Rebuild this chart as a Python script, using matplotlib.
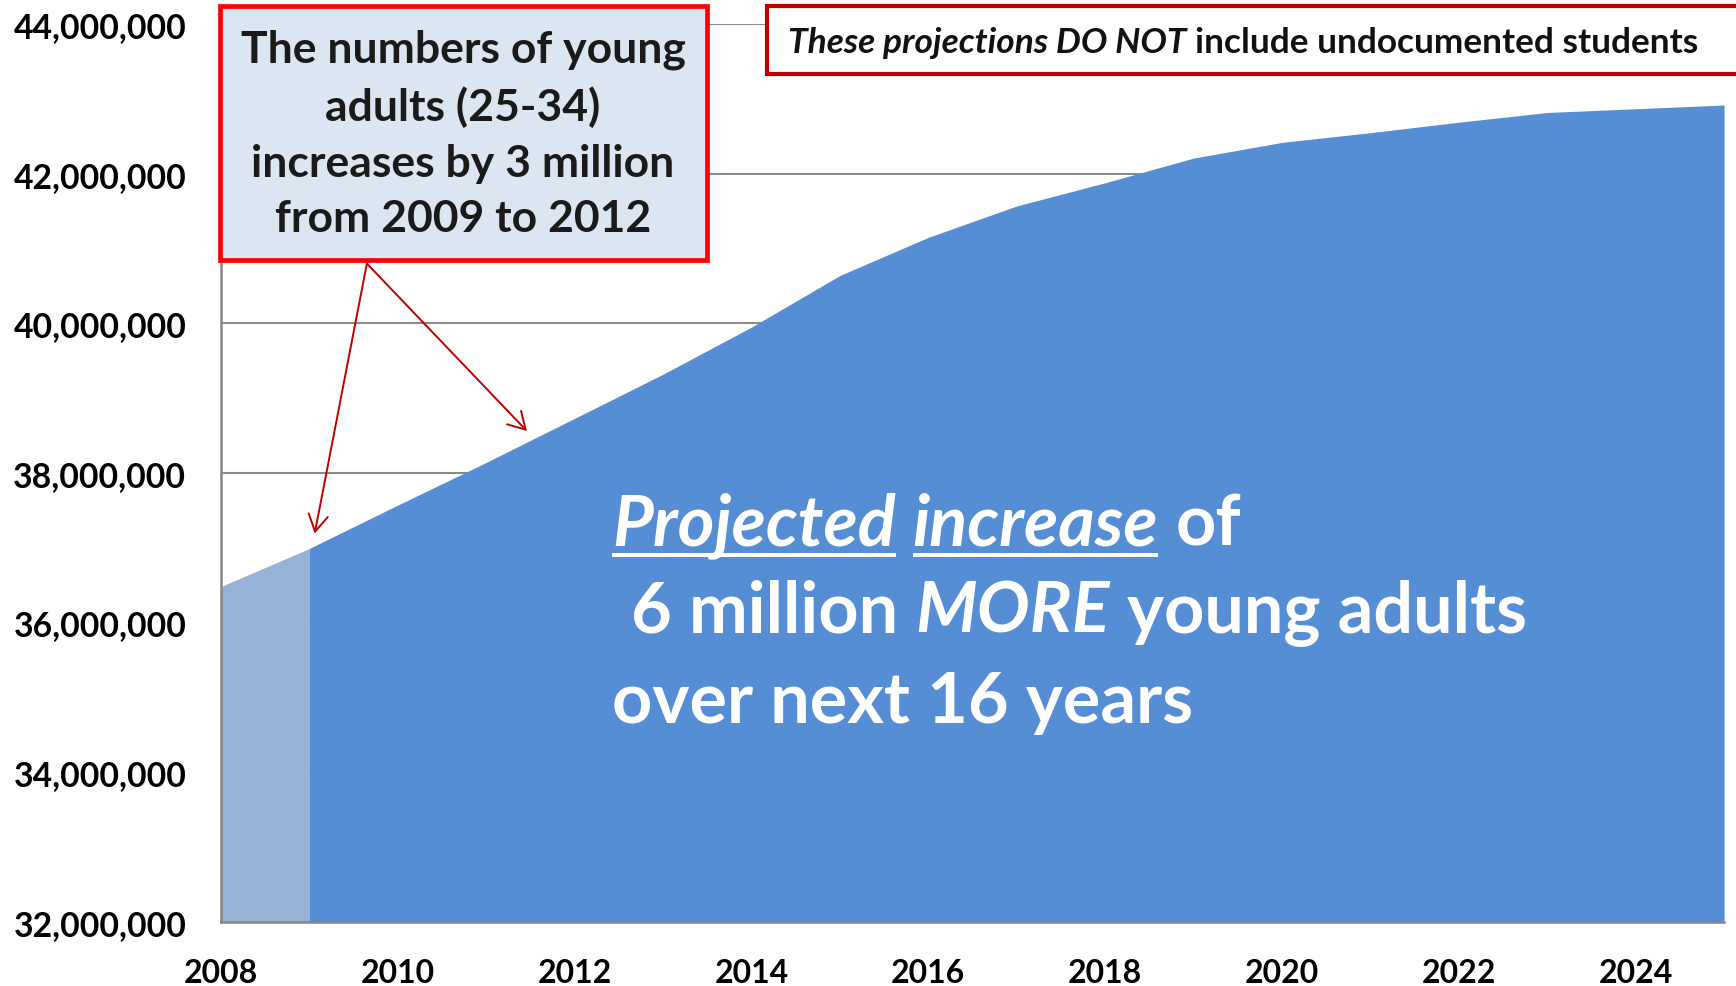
import numpy as np
import matplotlib.pyplot as plt
from matplotlib.patches import Rectangle
from matplotlib.lines import Line2D
from matplotlib.ticker import FuncFormatter

# Young adults (25-34), actual 2008-2009 and projected to 2025
years = [2008, 2009, 2010, 2011, 2012, 2013, 2014, 2015, 2016,
         2017, 2018, 2019, 2020, 2021, 2022, 2023, 2024, 2025]
adults = [36.48e6, 36.99e6, 37.57e6, 38.14e6, 38.73e6, 39.32e6, 39.95e6, 40.64e6, 41.15e6,
          41.57e6, 41.88e6, 42.21e6, 42.42e6, 42.55e6, 42.69e6, 42.82e6, 42.87e6, 42.92e6]

year_ticks = list(range(2008, 2025, 2))
pop_ticks = [32e6, 34e6, 36e6, 38e6, 40e6, 42e6, 44e6]

box_text = "The numbers of young\nadults (25-34)\nincreases by 3 million\nfrom 2009 to 2012"
note_parts = [("These projections DO NOT", True, False),
              ("include undocumented students", False, False)]
big_lines = [
    [("Projected", True, True), ("increase", True, True), ("of", False, False)],
    [("6 million", False, False), ("MORE", True, False), ("young adults", False, False)],
    [("over next 16 years", False, False)],
]

plt.rcParams['font.family'] = ['Lato', 'DejaVu Sans']

fig = plt.figure(figsize=(17.36, 9.87), dpi=100)
ax = fig.add_axes([0.1273, 0.0653, 0.8658, 0.9091])

# area: first year lighter, projection in darker blue
ax.fill_between(years[:2], adults[:2], pop_ticks[0], color='#95B3D7', lw=0, zorder=2)
ax.fill_between(years[1:], adults[1:], pop_ticks[0], color='#558ED5', lw=0, zorder=2)

ax.set_xlim(2008, 2025)
ax.set_ylim(pop_ticks[0], pop_ticks[-1])
ax.set_xticks(year_ticks)
ax.set_yticks(pop_ticks)
ax.yaxis.set_major_formatter(FuncFormatter(lambda v, p: '{:,.0f}'.format(v)))
ax.tick_params(length=0)
ax.tick_params(axis='y', pad=25, labelsize=24.3)
ax.tick_params(axis='x', pad=26, labelsize=23)
for lab in ax.get_xticklabels() + ax.get_yticklabels():
    lab.set_fontweight('bold')

ax.grid(axis='y', color='#8C8C8C', lw=1.5, zorder=1)
ax.set_axisbelow(True)
for s in ['top', 'right']:
    ax.spines[s].set_visible(False)
for s in ['left', 'bottom']:
    ax.spines[s].set_color('#878787')
    ax.spines[s].set_linewidth(1.8)
    ax.spines[s].set_zorder(3)

# callout box top left
fig.add_artist(Rectangle((0.1267, 0.7356), 0.2805, 0.257, transform=fig.transFigure,
                         facecolor='#DCE6F2', edgecolor='#FF0000', lw=3.4, zorder=5))
fig.text(0.2667, 0.8637, box_text, ha='center', va='center', fontsize=32,
         fontweight='bold', color='#1A1A1A', linespacing=1.47, zorder=6)

# arrows from the callout
for tip in [(2009.06, 37.19e6), (2011.46, 38.56e6)]:
    ax.annotate('', xy=tip, xytext=(2009.65, 40.80e6),
                arrowprops=dict(arrowstyle='->,head_length=0.6,head_width=0.35',
                                mutation_scale=20, color='#C00000', lw=1.4,
                                shrinkA=0, shrinkB=0), zorder=4)

# note box top right
fig.add_artist(Rectangle((0.4421, 0.924), 0.57, 0.0686, transform=fig.transFigure,
                         facecolor='white', edgecolor='#C00000', lw=3.0, zorder=5))

renderer = fig.canvas.get_renderer()


def space_width(size):
    a = fig.text(0, 0, 'a a', fontsize=size, fontweight='bold')
    b = fig.text(0, 0, 'aa', fontsize=size, fontweight='bold')
    w = a.get_window_extent(renderer).width - b.get_window_extent(renderer).width
    a.remove()
    b.remove()
    return w / fig.bbox.width


def write_runs(x, y, parts, size, color, ul_off=0.0111, ul_lw=2.9):
    gap = space_width(size)
    for txt, italic, uline in parts:
        t = fig.text(x, y, txt, fontsize=size, fontweight='bold',
                     fontstyle='italic' if italic else 'normal',
                     color=color, va='baseline', zorder=6)
        bb = t.get_window_extent(renderer).transformed(fig.transFigure.inverted())
        if uline:
            fig.add_artist(Line2D([bb.x0, bb.x1], [y - ul_off] * 2, color=color,
                                  lw=ul_lw, solid_capstyle='butt', zorder=6))
        x = bb.x1 + gap


write_runs(0.4539, 0.9463, note_parts, 25.4, '#111111')

big_x = [0.3525, 0.3635, 0.3525]
big_y = [0.4478, 0.3587, 0.2675]
for bx, by, parts in zip(big_x, big_y, big_lines):
    write_runs(bx, by, parts, 50.6, 'white')

fig.savefig('out.png', dpi=100)
